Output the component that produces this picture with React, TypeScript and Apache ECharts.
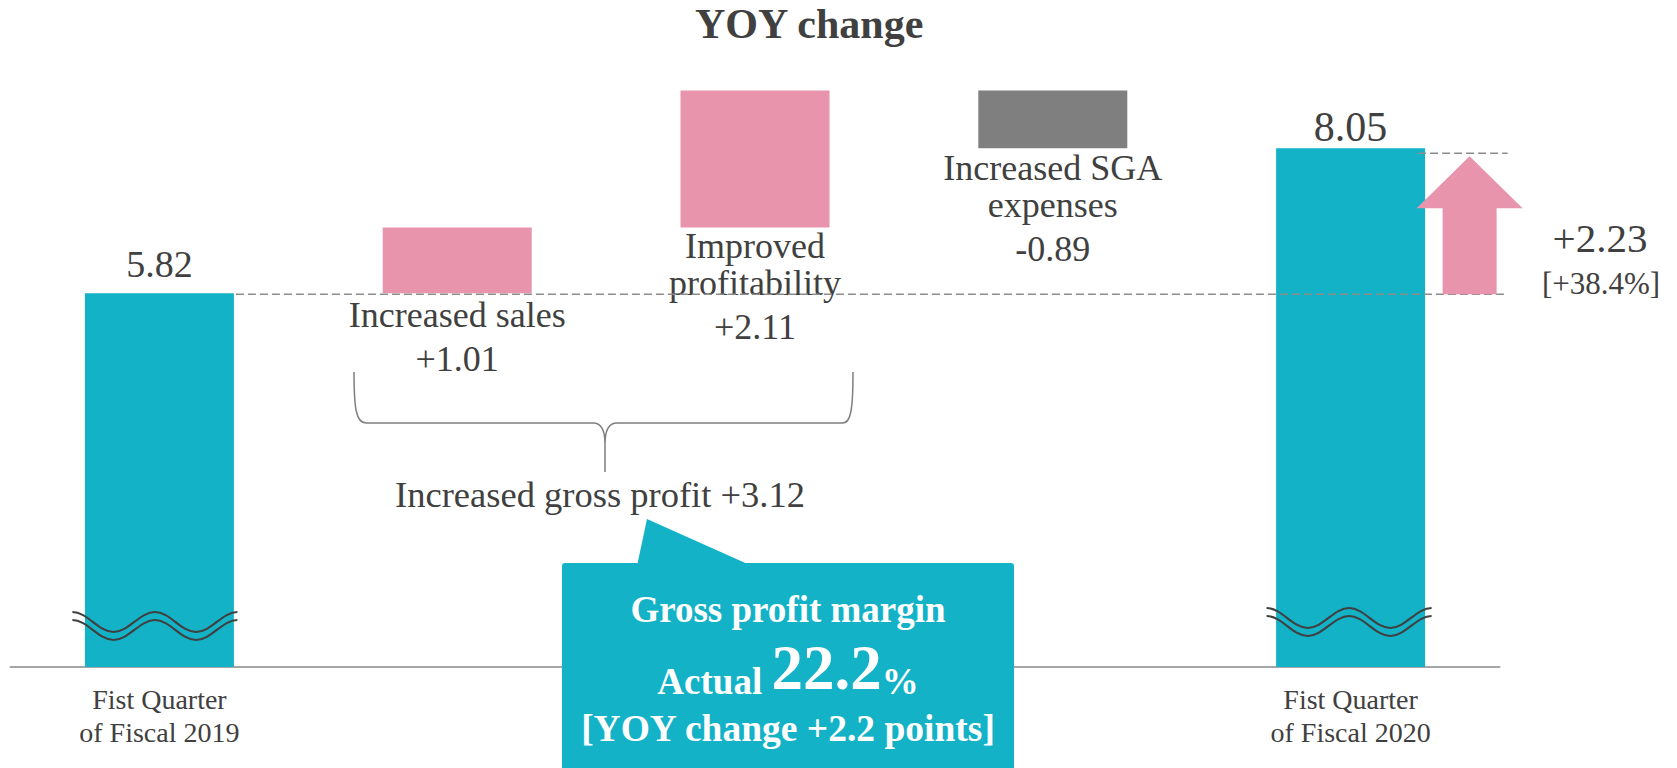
import React, { useEffect, useRef } from 'react';
import * as echarts from 'echarts';

// ---------- data ----------
const chartTitle = 'YOY change';
const categories = [
  'Fist Quarter\nof Fiscal 2019',
  'Increased sales',
  'Improved\nprofitability',
  'Increased SGA\nexpenses',
  'Fist Quarter\nof Fiscal 2020',
];
const startValue = 5.82;
const changeValues = [1.01, 2.11, -0.89];
const endValue = 8.05;
const yoyChangePct = 38.4;
const grossMarginActual = 22.2;
const grossMarginChange = 2.2;

// ---------- style ----------
const TEAL = '#13B2C7';
const PINK = '#E794AC';
const GRAY = '#7F7F7F';
const TEXT = '#404040';
const FONT = '"Liberation Serif", "Times New Roman", serif';

const wavePath =
  'M0,0 C15,0 26.3,20 41.25,20 C56.3,20 67.5,0 82.5,0 C97.5,0 108.8,20 123.75,20 C138.8,20 150,0 165,0 ' +
  'M0,8 C15,8 26.3,28 41.25,28 C56.3,28 67.5,8 82.5,8 C97.5,8 108.8,28 123.75,28 C138.8,28 150,8 165,8';
const bracePath =
  'M0,0 C0,36 2,51 12,51 L239,51 C247,51 251,58 251,72 L251,100 M251,72 C251,58 255,51 263,51 L489,51 C497,51 499,36 499,0';

echarts.graphic.registerShape('wave', echarts.graphic.extendPath(wavePath, {}));
echarts.graphic.registerShape('brace', echarts.graphic.extendPath(bracePath, {}));

const fmtChange = (c: number) => (c >= 0 ? '+' : '') + c.toFixed(2);

export default function App() {
  const ref = useRef<HTMLDivElement>(null);

  useEffect(() => {
    if (!ref.current) return;
    const chart = echarts.init(ref.current, undefined, { renderer: 'svg' });

    // waterfall layout from the data
    const base: number[] = [0];
    const vis: number[] = [startValue];
    const colors: string[] = [TEAL];
    let run = startValue;
    changeValues.forEach((c) => {
      const next = run + c;
      base.push(Math.min(run, next));
      vis.push(Math.abs(c));
      colors.push(c >= 0 ? PINK : GRAY);
      run = next;
    });
    base.push(0);
    vis.push(endValue);
    colors.push(TEAL);

    const bottomDist = [0, 3, 0, 1, 0];
    const visData = vis.map((v, i) => {
      let label: any;
      if (i === 0 || i === vis.length - 1) {
        const val = i === 0 ? startValue : endValue;
        label = {
          show: true,
          position: 'top',
          distance: i === 0 ? 10 : 0,
          fontSize: i === 0 ? 38 : 42,
          fontFamily: FONT,
          color: TEXT,
          formatter: val.toFixed(2),
        };
      } else {
        const name = categories[i];
        const ch = changeValues[i - 1];
        label = {
          show: true,
          position: 'bottom',
          distance: bottomDist[i],
          formatter:
            name
              .split('\n')
              .map((l) => `{n|${l}}`)
              .join('\n') + `\n{v|${fmtChange(ch)}}`,
          rich: {
            n: { fontSize: 36, lineHeight: 37, fontFamily: FONT, color: TEXT },
            v: { fontSize: 36, lineHeight: 51, fontFamily: FONT, color: TEXT },
          },
        };
      }
      return { value: v, itemStyle: { color: colors[i] }, label };
    });

    const option: any = {
      animation: false,
      backgroundColor: '#ffffff',
      title: {
        text: chartTitle,
        left: 695,
        top: 3,
        padding: 0,
        textStyle: { fontSize: 42, fontWeight: 'bold', fontFamily: FONT, color: TEXT },
      },
      grid: { left: 10.5, right: 177.5, top: 82, bottom: 101, containLabel: false },
      xAxis: {
        type: 'category',
        data: categories,
        axisTick: { show: false },
        axisLine: { lineStyle: { color: '#A6A6A6', width: 2 } },
        axisLabel: {
          interval: 0,
          margin: 16,
          fontSize: 28,
          lineHeight: 33,
          fontFamily: FONT,
          color: TEXT,
          formatter: (val: string, idx: number) =>
            idx === 0 || idx === categories.length - 1 ? val : '',
        },
      },
      yAxis: {
        type: 'value',
        min: 0.07,
        max: 9.07,
        axisLine: { show: false },
        axisTick: { show: false },
        axisLabel: { show: false },
        splitLine: { show: false },
      },
      series: [
        {
          type: 'bar',
          stack: 'w',
          barWidth: 149,
          silent: true,
          itemStyle: { color: 'transparent' },
          data: base,
        },
        {
          type: 'bar',
          stack: 'w',
          barWidth: 149,
          data: visData,
        },
      ],
    };
    chart.setOption(option);

    const yPx = (v: number) => chart.convertToPixel({ yAxisIndex: 0 }, v) as number;
    const xPx = (i: number) => chart.convertToPixel({ xAxisIndex: 0 }, i) as number;

    const last = categories.length - 1;
    const yStart = yPx(startValue);
    const yEnd = yPx(endValue);
    const x0 = xPx(0);
    const xL = xPx(last);
    const halfBar = 74.5;

    const grossProfit = changeValues.filter((c) => c > 0).reduce((a, b) => a + b, 0);
    const totalChange = endValue - startValue;

    const arrowL = xL + 92;
    const arrowR = xL + 146;
    const headL = xL + 66;
    const headR = xL + 172;
    const tipX = xL + 119;
    const tipY = yEnd + 8;
    const headY = tipY + 52;

    const elements: any[] = [
      // dashed reference lines
      {
        type: 'line',
        z: 100,
        shape: { x1: x0 + halfBar + 2, y1: yStart + 1, x2: xL + 155, y2: yStart + 1 },
        style: { stroke: '#8C8C8C', lineWidth: 1.6, lineDash: [8, 4] },
      },
      {
        type: 'line',
        z: 100,
        shape: { x1: xL + halfBar - 7, y1: yEnd + 5, x2: xL + 157, y2: yEnd + 5 },
        style: { stroke: '#8C8C8C', lineWidth: 1.6, lineDash: [8, 4] },
      },
      // up arrow
      {
        type: 'polygon',
        z: 101,
        shape: {
          points: [
            [arrowL, yStart + 1],
            [arrowL, headY],
            [headL, headY],
            [tipX, tipY],
            [headR, headY],
            [arrowR, headY],
            [arrowR, yStart + 1],
          ],
        },
        style: { fill: PINK },
      },
      {
        type: 'text',
        z: 101,
        x: 1600,
        y: 238,
        style: {
          text: fmtChange(totalChange),
          fontSize: 41,
          fontFamily: FONT,
          fill: TEXT,
          align: 'center',
          verticalAlign: 'middle',
        },
      },
      {
        type: 'text',
        z: 101,
        x: 1601,
        y: 283,
        style: {
          text: `[+${yoyChangePct.toFixed(1)}%]`,
          fontSize: 31,
          fontFamily: FONT,
          fill: TEXT,
          align: 'center',
          verticalAlign: 'middle',
        },
      },
      // break marks
      {
        type: 'wave',
        z: 101,
        x: x0 - 87,
        y: 612,
        style: { stroke: TEXT, lineWidth: 2.2, fill: 'none' },
      },
      {
        type: 'wave',
        z: 101,
        x: xL - 84,
        y: 608,
        style: { stroke: TEXT, lineWidth: 2.2, fill: 'none' },
      },
      // brace
      {
        type: 'brace',
        z: 101,
        x: 354,
        y: 372,
        style: { stroke: '#7F7F7F', lineWidth: 1.5, fill: 'none' },
      },
      {
        type: 'text',
        z: 101,
        x: 600,
        y: 494,
        style: {
          text: `Increased gross profit +${grossProfit.toFixed(2)}`,
          fontSize: 36.5,
          fontFamily: FONT,
          fill: TEXT,
          align: 'center',
          verticalAlign: 'middle',
        },
      },
      // callout
      {
        type: 'polygon',
        z: 102,
        shape: { points: [[637, 566], [647, 519], [752, 566]] },
        style: { fill: TEAL },
      },
      {
        type: 'rect',
        z: 102,
        shape: { x: 562, y: 563, width: 452, height: 230, r: 3 },
        style: { fill: TEAL },
      },
      {
        type: 'text',
        z: 103,
        x: 788,
        y: 609,
        style: {
          text: 'Gross profit margin',
          fontSize: 37,
          fontWeight: 'bold',
          fontFamily: FONT,
          fill: '#ffffff',
          align: 'center',
          verticalAlign: 'middle',
        },
      },
      {
        type: 'text',
        z: 103,
        x: 788,
        y: 668,
        style: {
          text: `{a|Actual }{b|${grossMarginActual.toFixed(1)}}{a|%}`,
          align: 'center',
          verticalAlign: 'middle',
          rich: {
            a: {
              fontSize: 37,
              fontWeight: 'bold',
              fontFamily: FONT,
              fill: '#ffffff',
              lineHeight: 46,
              verticalAlign: 'bottom',
            },
            b: {
              fontSize: 63,
              fontWeight: 'bold',
              fontFamily: FONT,
              fill: '#ffffff',
              lineHeight: 63,
              verticalAlign: 'bottom',
            },
          },
        },
      },
      {
        type: 'text',
        z: 103,
        x: 788,
        y: 728,
        style: {
          text: `[YOY change +${grossMarginChange.toFixed(1)} points]`,
          fontSize: 37.5,
          fontWeight: 'bold',
          fontFamily: FONT,
          fill: '#ffffff',
          align: 'center',
          verticalAlign: 'middle',
        },
      },
    ];

    chart.setOption({ graphic: { elements } });

    return () => {
      chart.dispose();
    };
  }, []);

  return (
    <div
      ref={ref}
      style={{ position: 'fixed', left: 0, top: 0, width: 1677, height: 768, background: '#fff' }}
    />
  );
}
